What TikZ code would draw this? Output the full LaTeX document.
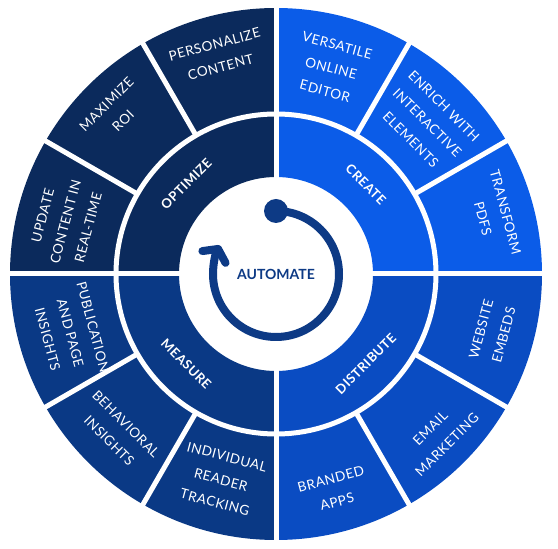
\documentclass[tikz,border=0pt]{standalone}
\usepackage{fontspec}
\setmainfont{Lato}
\newfontfamily\widefont{Lato}[LetterSpace=4.0]
\usetikzlibrary{arrows.meta}
\definecolor{optblue}{HTML}{0B2A5C}
\definecolor{creblue}{HTML}{0B5CE8}
\definecolor{disblue}{HTML}{0A4CC2}
\definecolor{meablue}{HTML}{0A3985}
\definecolor{autoblue}{HTML}{0D3A85}

% annular sector: colour, from angle, to angle, inner r, outer r
\newcommand{\ringpart}[5]{%
  \fill[#1] (#2:#4pt) arc[start angle=#2,end angle=#3,radius=#4pt]
    -- (#3:#5pt) arc[start angle=#3,end angle=#2,radius=#5pt] -- cycle;}

\begin{document}
\begin{tikzpicture}[x=1pt,y=1pt,
  gap/.style={draw=white,line width=5pt},
  lbl/.style={text=white,align=center,inner sep=0pt,
              font=\widefont\fontsize{13.5}{23.5}\selectfont},
  hub/.style={text=white,inner sep=0pt,font=\widefont\bfseries\fontsize{13}{16}\selectfont},
]
\useasboundingbox (0,0) rectangle (558,549);
\begin{scope}[shift={(276,275)}]
% ---- inner ring: the four stages ----------------------------------------
\ringpart{optblue}{90}{180}{97}{160}
\ringpart{creblue}{0}{90}{97}{160}
\ringpart{disblue}{-90}{0}{97}{160}
\ringpart{meablue}{180}{270}{97}{160}

% ---- outer ring --------------------------------------------------------
\ringpart{optblue}{90}{180}{160}{266}
\ringpart{creblue}{0}{90}{160}{266}
\ringpart{disblue}{-90}{0}{160}{266}
\ringpart{meablue}{180}{270}{160}{266}

% white gaps
\draw[gap] (0,0) circle[radius=160pt];
\foreach \a in {0,90,180,270} \draw[gap] (\a:95pt) -- (\a:270pt);
\foreach \a in {30,60,120,150,210,240,300,330} \draw[gap] (\a:160pt) -- (\a:270pt);

% ---- stage labels ------------------------------------------------------
\node[hub,rotate=45]  (optimize)   at (135:127pt) {OPTIMIZE};
\node[hub,rotate=-45] (create)     at (45:127pt)  {CREATE};
\node[hub,rotate=45]  (distribute) at (-45:127pt) {DISTRIBUTE};
\node[hub,rotate=-45] (measure)    at (-135:127pt) {MEASURE};

% ---- feature labels ----------------------------------------------------
\node[lbl,rotate=15]  (personalize) at (105:226pt) {PERSONALIZE\\CONTENT};
\node[lbl,rotate=45]  (roi)         at (135:228pt) {MAXIMIZE\\ROI};
\node[lbl,rotate=75]  (update)      at (166:217pt) {UPDATE\\CONTENT IN\\REAL-TIME};
\node[lbl,rotate=-15] (editor)      at (75:213pt)  {VERSATILE\\ONLINE\\EDITOR};
\node[lbl,rotate=-45] (enrich)      at (45:214pt)  {ENRICH WITH\\INTERACTIVE\\ELEMENTS};
\node[lbl,rotate=-75] (pdfs)        at (15:226pt)  {TRANSFORM\\PDFS};
\node[lbl,rotate=75]  (embeds)      at (-15:224pt) {WEBSITE\\EMBEDS};
\node[lbl,rotate=45]  (email)       at (-45:230pt) {EMAIL\\MARKETING};
\node[lbl,rotate=15]  (apps)        at (-75:224pt) {BRANDED\\APPS};
\node[lbl,rotate=-15] (tracking)    at (-105:213pt) {INDIVIDUAL\\READER\\TRACKING};
\node[lbl,rotate=-45] (behavioral)  at (-135:224pt) {BEHAVIORAL\\INSIGHTS};
\node[lbl,rotate=-75] (publication) at (-164:214pt) {PUBLICATION\\AND PAGE\\INSIGHTS};

% ---- centre: automate loop ---------------------------------------------
\draw[autoblue,line width=8pt,-{Straight Barb[round,length=9pt,width=26pt]}]
  (90:63pt) arc[start angle=90,end angle=-207,radius=63pt];
\fill[autoblue] (90:63pt) circle[radius=12pt];
\node[text=autoblue,font=\bfseries\fontsize{14}{16}\selectfont] (automate) at (0,0) {AUTOMATE};
\end{scope}
\end{tikzpicture}
\end{document}
